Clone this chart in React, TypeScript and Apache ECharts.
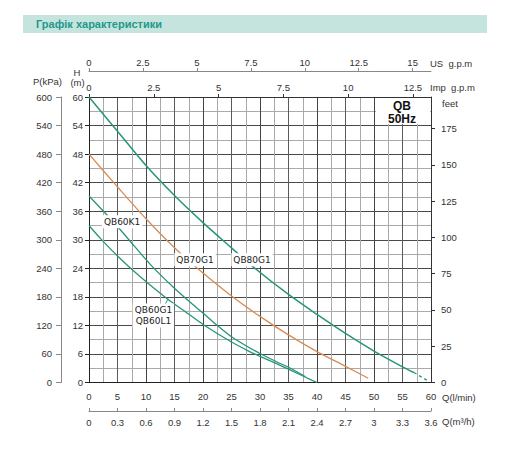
import React, { useEffect, useRef } from "react";
import * as echarts from "echarts";

// ---- data (Q in l/min, H in m) ----
const qb80Q = [0, 5, 10, 15, 20, 25, 29, 35, 40, 45, 50, 55, 57];
const qb80H = [60, 52.8, 45.6, 39.3, 33.6, 28.3, 24.1, 18.5, 14.3, 10.3, 6.6, 3.3, 2.1];
const qb80TailQ = [57, 59.6];
const qb80TailH = [2.1, 0.25];

const qb70Q = [0, 5, 10, 15, 20, 25, 30, 35, 40, 45, 49];
const qb70H = [48, 41.1, 34.4, 28.3, 23, 18.2, 13.9, 10, 6.5, 3.4, 0.9];

const qb60kQ = [0, 3, 5.5, 8, 11, 14.8, 17.7, 20, 22.5, 25, 28, 30, 33, 35, 38];
const qb60kH = [39.2, 35.4, 32.1, 28.6, 24.5, 20.0, 16.9, 14.6, 12.0, 9.6, 7.4, 6.1, 4.3, 3.2, 1.2];

const qb60gQ = [0, 2, 5, 9, 13.6, 17.7, 20, 25, 28, 30, 33, 35, 38, 40];
const qb60gH = [33, 30.3, 26.6, 22.2, 17.7, 14.2, 12.2, 8.5, 6.6, 5.5, 3.9, 2.8, 1.1, 0];

// ---- tick labels ----
const impTicks = [0, 2.5, 5, 7.5, 10, 12.5];
const usTicks = [0, 2.5, 5, 7.5, 10, 12.5, 15];
const feetTicks = [0, 25, 50, 75, 100, 125, 150, 175];

const GREEN = "#26957a";
const ORANGE = "#d88b55";
const FONT = "Liberation Sans, Arial, sans-serif";
const LBLFONT = "DejaVu Sans, sans-serif";

const zip = (a: number[], b: number[]) => a.map((v, i) => [v, b[i]]);

export default function App() {
  const ref = useRef<HTMLDivElement>(null);
  useEffect(() => {
    document.body.style.margin = "0";
    const chart = echarts.init(ref.current!, null, { renderer: "svg" });
    const numLabel = { color: "#333", fontSize: 9.5, fontFamily: FONT };
    const hiddenBase = {
      type: "value" as const,
      axisLine: { show: false, onZero: false },
      axisTick: { show: false },
      axisLabel: { show: false },
    };
    const curveLabel = (name: string, q: number, h: number, extra: any = {}) => ({
      name,
      coord: [q, h],
      symbol: "circle",
      symbolSize: 1,
      itemStyle: { color: "rgba(0,0,0,0)" },
      label: {
        show: true,
        position: "inside",
        formatter: name,
        color: "#222",
        fontSize: 9,
        fontFamily: LBLFONT,
        backgroundColor: "#fff",
        padding: [1, 2],
        lineHeight: 11,
        ...extra,
      },
    });
    const curve = (name: string, q: number[], h: number[], color: string, width: number, extra: any = {}) => ({
      name,
      type: "line",
      data: zip(q, h),
      smooth: 0.3,
      showSymbol: false,
      lineStyle: { color, width },
      ...extra,
    });

    const option: any = {
      animation: false,
      backgroundColor: "#fff",
      textStyle: { fontFamily: FONT },
      grid: { left: 89, right: 81, top: 97, bottom: 75.5, containLabel: false },
      xAxis: [
        {
          type: "value",
          position: "bottom",
          min: 0,
          max: 60,
          interval: 5,
          axisLine: { show: true, onZero: false, lineStyle: { color: "#222" } },
          axisTick: { show: false },
          axisLabel: { ...numLabel, margin: 9 },
          splitLine: { show: false },
        },
        {
          ...hiddenBase,
          position: "bottom",
          min: 0,
          max: 60,
          interval: 2.5,
          splitLine: {
            show: true,
            lineStyle: { color: ["#444", "#aaa", "#5a5a5a", "#aaa"], width: 1 },
          },
        },
        {
          type: "value",
          position: "top",
          min: 0,
          max: 60 / 4.54609,
          axisLine: { show: true, onZero: false, lineStyle: { color: "#333" } },
          axisTick: { show: true, length: 3, customValues: impTicks, lineStyle: { color: "#333" } },
          axisLabel: { ...numLabel, margin: 5, customValues: impTicks },
          splitLine: { show: false },
        },
        {
          type: "value",
          position: "top",
          offset: 26,
          min: 0,
          max: 60 / 3.78541,
          axisLine: { show: true, onZero: false, lineStyle: { color: "#888" } },
          axisTick: { show: true, length: 3, customValues: usTicks, lineStyle: { color: "#888" } },
          axisLabel: { ...numLabel, margin: 4, customValues: usTicks },
          splitLine: { show: false },
        },
        {
          type: "value",
          position: "bottom",
          offset: 28.5,
          min: 0,
          max: 3.6,
          interval: 0.3,
          axisLine: { show: true, onZero: false, lineStyle: { color: "#888" } },
          axisTick: { show: true, inside: true, length: 3, lineStyle: { color: "#888" } },
          axisLabel: { ...numLabel, margin: 6 },
          splitLine: { show: false },
        },
      ],
      yAxis: [
        {
          type: "value",
          position: "left",
          min: 0,
          max: 60,
          interval: 6,
          axisLine: { show: true, onZero: false, lineStyle: { color: "#222" } },
          axisTick: { show: true, length: 4, lineStyle: { color: "#222" } },
          axisLabel: { ...numLabel, margin: 6 },
          splitLine: { show: false },
        },
        {
          ...hiddenBase,
          position: "left",
          min: 0,
          max: 60,
          interval: 3,
          splitLine: { show: true, lineStyle: { color: ["#4a4a4a", "#aaa"], width: 1 } },
        },
        {
          type: "value",
          position: "left",
          offset: 28,
          min: 0,
          max: 600,
          interval: 60,
          axisLine: { show: true, onZero: false, lineStyle: { color: "#888" } },
          axisTick: { show: true, length: 5, lineStyle: { color: "#888" } },
          axisLabel: { ...numLabel, margin: 9 },
          splitLine: { show: false },
        },
        {
          type: "value",
          position: "right",
          min: 0,
          max: 60 * 3.28084,
          axisLine: { show: true, onZero: false, lineStyle: { color: "#333" } },
          axisTick: { show: true, length: 4, customValues: feetTicks, lineStyle: { color: "#333" } },
          axisLabel: { ...numLabel, margin: 10, customValues: feetTicks },
          splitLine: { show: false },
        },
      ],
      series: [
        curve("QB80G1", qb80Q, qb80H, GREEN, 1.5, {
          markPoint: { data: [curveLabel("QB80G1", 28.6, 25.8)] },
        }),
        {
          name: "QB80G1 tail",
          type: "line",
          data: zip(qb80TailQ, qb80TailH),
          showSymbol: false,
          lineStyle: { color: GREEN, width: 1.3, type: [3, 3] },
        },
        curve("QB70G1", qb70Q, qb70H, ORANGE, 1.3, {
          markPoint: { data: [curveLabel("QB70G1", 18.6, 25.8)] },
        }),
        curve("QB60K1", qb60kQ, qb60kH, GREEN, 1.3, {
          markPoint: { data: [curveLabel("QB60K1", 5.8, 33.8)] },
        }),
        curve("QB60G1", qb60gQ, qb60gH, GREEN, 1.3, {
          markPoint: { data: [curveLabel("QB60G1\nQB60L1", 11.3, 14.1, { align: "center" })] },
          markLine: {
            symbol: "none",
            silent: true,
            label: { show: false },
            lineStyle: { color: GREEN, width: 1, type: "solid" },
            data: [[{ coord: [13.3, 16.3] }, { coord: [13.9, 17.6] }]],
          },
        }),
      ],
      graphic: {
        elements: [
          { type: "rect", shape: { x: 23, y: 15, width: 464, height: 18 }, style: { fill: "#c4e4dd" }, z: 50 },
          {
            type: "text",
            x: 36,
            y: 24,
            z: 51,
            style: { text: "Графік характеристики", fill: "#22998a", font: `bold 11px ${FONT}`, verticalAlign: "middle" },
          },
          { type: "rect", shape: { x: 376, y: 98, width: 54, height: 26 }, style: { fill: "#fff" }, z: 50 },
          {
            type: "text", x: 402, y: 106, z: 51,
            style: { text: "QB", fill: "#111", font: `bold 12px ${FONT}`, align: "center", verticalAlign: "middle" },
          },
          {
            type: "text", x: 402, y: 118.5, z: 51,
            style: { text: "50Hz", fill: "#111", font: `bold 12px ${FONT}`, align: "center", verticalAlign: "middle" },
          },
          { type: "text", x: 33, y: 81, z: 51, style: { text: "P(kPa)", fill: "#333", font: `9.5px ${FONT}`, verticalAlign: "middle" } },
          { type: "text", x: 77, y: 72, z: 51, style: { text: "H", fill: "#333", font: `9.5px ${FONT}`, align: "center", verticalAlign: "middle" } },
          { type: "text", x: 77.5, y: 82, z: 51, style: { text: "(m)", fill: "#333", font: `9.5px ${FONT}`, align: "center", verticalAlign: "middle" } },
          { type: "text", x: 430, y: 63, z: 51, style: { text: "US  g.p.m", fill: "#333", font: `9.5px ${FONT}`, verticalAlign: "middle" } },
          { type: "text", x: 430, y: 87, z: 51, style: { text: "Imp  g.p.m", fill: "#333", font: `9.5px ${FONT}`, verticalAlign: "middle" } },
          { type: "text", x: 442, y: 103, z: 51, style: { text: "feet", fill: "#333", font: `9.5px ${FONT}`, verticalAlign: "middle" } },
          { type: "text", x: 442, y: 397, z: 51, style: { text: "Q(l/min)", fill: "#333", font: `9.5px ${FONT}`, verticalAlign: "middle" } },
          { type: "text", x: 442, y: 421.5, z: 51, style: { text: "Q(m³/h)", fill: "#333", font: `9.5px ${FONT}`, verticalAlign: "middle" } },
        ],
      },
    };
    chart.setOption(option);
    return () => chart.dispose();
  }, []);
  return <div ref={ref} style={{ width: 512, height: 458 }} />;
}
